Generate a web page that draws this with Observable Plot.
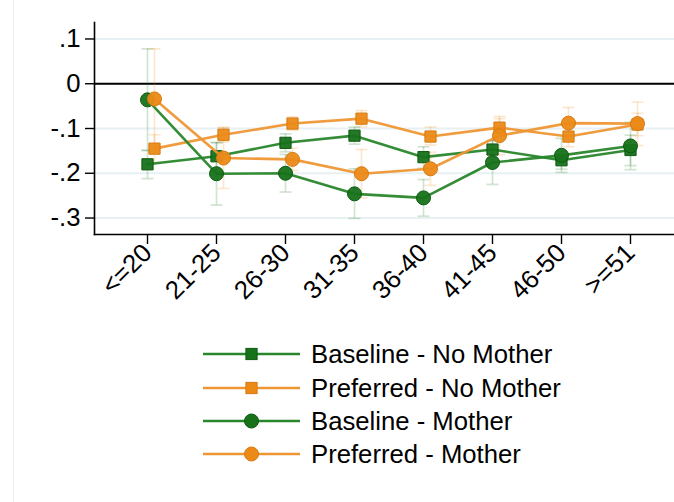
<!DOCTYPE html>
<html>
<head>
<meta charset="utf-8">
<script src="https://cdn.jsdelivr.net/npm/d3@7"></script>
<script src="https://cdn.jsdelivr.net/npm/@observablehq/plot@0.6"></script>
<style>
  html, body { margin: 0; padding: 0; background: #fff; }
  #wrap { position: relative; width: 674px; height: 502px; overflow: hidden; background: #fff; }
  #edge { position: absolute; left: 13px; top: 0; width: 1px; height: 502px; background: #eceeef; }
  #chart { position: absolute; left: 0; top: 0; }
  #legend { position: absolute; left: 0; top: 300px; }
  svg text { font-family: "Liberation Sans", Arial, sans-serif; }
</style>
</head>
<body>
<div id="wrap"><div id="edge"></div><div id="chart"></div><div id="legend"></div></div>
<script>
const ages = ["<=20","21-25","26-30","31-35","36-40","41-45","46-50",">=51"];

const baseNoMother   = [-0.180,-0.162,-0.132,-0.116,-0.164,-0.147,-0.171,-0.148];
const baseNoMotherLo = [-0.212,-0.192,-0.152,-0.135,-0.189,-0.167,-0.191,-0.183];
const baseNoMotherHi = [-0.149,-0.132,-0.112,-0.097,-0.141,-0.127,-0.151,-0.115];

const prefNoMother   = [-0.145,-0.114,-0.089,-0.078,-0.118,-0.098,-0.118,-0.091];
const prefNoMotherLo = [-0.176,-0.130,-0.104,-0.096,-0.137,-0.118,-0.141,-0.116];
const prefNoMotherHi = [-0.114,-0.098,-0.074,-0.060,-0.097,-0.078,-0.095,-0.066];

const baseMother   = [-0.036,-0.201,-0.200,-0.246,-0.255,-0.176,-0.160,-0.139];
const baseMotherLo = [-0.149,-0.271,-0.242,-0.301,-0.296,-0.225,-0.198,-0.192];
const baseMotherHi = [ 0.078,-0.131,-0.158,-0.190,-0.214,-0.127,-0.122,-0.086];

const prefMother   = [-0.034,-0.166,-0.169,-0.201,-0.190,-0.116,-0.088,-0.089];
const prefMotherLo = [-0.146,-0.234,-0.194,-0.255,-0.227,-0.159,-0.123,-0.138];
const prefMotherHi = [ 0.078,-0.098,-0.144,-0.147,-0.153,-0.073,-0.053,-0.041];

const yTicks = [0.1, 0, -0.1, -0.2, -0.3];
const yTickLabels = [".1", "0", "-.1", "-.2", "-.3"];
const gridVals = [0.1, -0.1, -0.2, -0.3];

const seriesNames = ["Baseline - No Mother","Preferred - No Mother","Baseline - Mother","Preferred - Mother"];

const GREEN = "#17721a", GREEN_LINE = "#2a862c", GREEN_EDGE = "#0d5a10";
const ORANGE = "#ec8a18", ORANGE_LINE = "#ee9634", ORANGE_EDGE = "#d67a10";

const series = [
  {name: seriesNames[0], v: baseNoMother, lo: baseNoMotherLo, hi: baseNoMotherHi, fill: GREEN, line: GREEN_LINE, edge: GREEN_EDGE, symbol: "square", r: 5.6, dx: 0},
  {name: seriesNames[1], v: prefNoMother, lo: prefNoMotherLo, hi: prefNoMotherHi, fill: ORANGE, line: ORANGE_LINE, edge: ORANGE_EDGE, symbol: "square", r: 5.6, dx: 7},
  {name: seriesNames[2], v: baseMother, lo: baseMotherLo, hi: baseMotherHi, fill: GREEN, line: GREEN_LINE, edge: GREEN_EDGE, symbol: "circle", r: 7, dx: 0},
  {name: seriesNames[3], v: prefMother, lo: prefMotherLo, hi: prefMotherHi, fill: ORANGE, line: ORANGE_LINE, edge: ORANGE_EDGE, symbol: "circle", r: 7, dx: 7}
];

const rows = s => ages.map((a, i) => ({age: a, v: s.v[i], lo: s.lo[i], hi: s.hi[i]}));

const capSymbol = { draw(ctx) { ctx.moveTo(-6, 0); ctx.lineTo(6, 0); } };
const sqSymbol = { draw(ctx, size) { const h = Math.sqrt(size / Math.PI); ctx.rect(-h, -h, 2*h, 2*h); } };

const ciMarks = series.flatMap(s => {
  const d = rows(s);
  return [
    Plot.ruleX(d, {x: "age", y1: "lo", y2: "hi", stroke: s.fill, strokeOpacity: 0.2, strokeWidth: 1.7, dx: s.dx}),
    Plot.dot(d, {x: "age", y: "lo", symbol: capSymbol, r: 6, stroke: s.fill, strokeOpacity: 0.2, strokeWidth: 1.7, fill: "none", dx: s.dx}),
    Plot.dot(d, {x: "age", y: "hi", symbol: capSymbol, r: 6, stroke: s.fill, strokeOpacity: 0.2, strokeWidth: 1.7, fill: "none", dx: s.dx})
  ];
});

const lineMarks = series.flatMap(s => {
  const d = rows(s);
  return [
    Plot.line(d, {x: "age", y: "v", stroke: s.line, strokeWidth: 2.6, strokeOpacity: 0.95, dx: s.dx}),
    Plot.dot(d, {x: "age", y: "v", symbol: s.symbol === "square" ? sqSymbol : "circle", r: s.r, fill: s.fill, stroke: s.edge, strokeWidth: 1, fillOpacity: 0.95, dx: s.dx})
  ];
});

const chart = Plot.plot({
  width: 674,
  height: 300,
  marginLeft: 94,
  marginRight: 0,
  marginTop: 22,
  marginBottom: 66,
  style: {fontFamily: "'Liberation Sans', Arial, sans-serif", fontSize: "25.7px", color: "#000", background: "transparent", overflow: "visible"},
  x: {type: "point", domain: ages, range: [145, 631.7], padding: 0},
  y: {domain: [-0.3368, 0.1368]},
  marks: [
    Plot.ruleY(gridVals, {stroke: "#e7f0f2", strokeWidth: 2}),
    Plot.ruleY([0], {stroke: "#000", strokeWidth: 2}),
    Plot.frame({anchor: "left", stroke: "#000", strokeWidth: 1.6}),
    Plot.frame({anchor: "bottom", stroke: "#000", strokeWidth: 1.6}),
    Plot.axisY({ticks: yTicks, tickFormat: d => yTickLabels[yTicks.indexOf(d)] ?? "", tickSize: 9, tickPadding: 5, label: null, stroke: "#000", strokeWidth: 1.4}),
    Plot.axisX({tickSize: 10, tickRotate: -45, tickPadding: 4, label: null, stroke: "#000", strokeWidth: 1.4}),
    ...ciMarks,
    ...lineMarks
  ]
});
document.getElementById("chart").appendChild(chart);

const legRowY = [54, 88, 121, 154];
const leg = d3.create("svg").attr("width", 674).attr("height", 202);
series.forEach((s, i) => {
  const g = leg.append("g").attr("transform", `translate(0,${legRowY[i]})`);
  g.append("line").attr("x1", 203).attr("x2", 300).attr("y1", 0).attr("y2", 0).attr("stroke", s.line).attr("stroke-width", 2.6);
  if (s.symbol === "square") {
    g.append("rect").attr("x", 251.5 - 5.6).attr("y", -5.6).attr("width", 11.2).attr("height", 11.2).attr("fill", s.fill).attr("stroke", s.edge);
  } else {
    g.append("circle").attr("cx", 251.5).attr("cy", 0).attr("r", 7).attr("fill", s.fill).attr("stroke", s.edge);
  }
  g.append("text").attr("x", 311).attr("y", 0).attr("dy", "0.35em").attr("font-size", 25.7).attr("fill", "#000").text(s.name);
});
document.getElementById("legend").appendChild(leg.node());
</script>
</body>
</html>
